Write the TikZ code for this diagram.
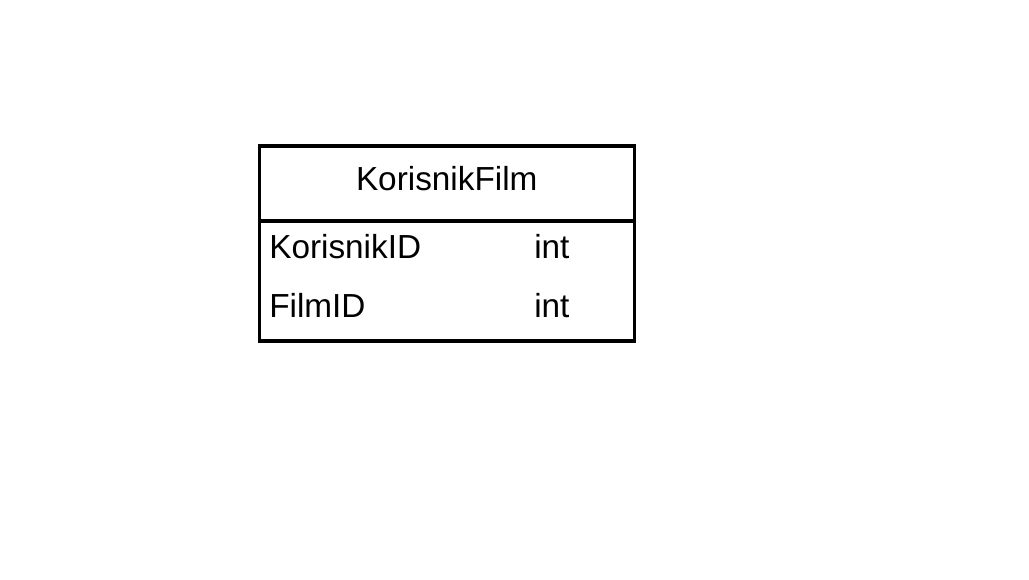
\documentclass[tikz,border=0pt]{standalone}
\usepackage{fontspec}
\setmainfont{Liberation Sans}
\usetikzlibrary{positioning}

\tikzset{
    entity/.style={draw, line width=2.4pt, minimum width=281.25pt, minimum height=146.25pt, inner sep=0pt},
    field/.style={anchor=base west, inner sep=0pt, font=\fontsize{25}{29}\selectfont},
    title/.style={anchor=base, inner sep=0pt, font=\fontsize{25}{29}\selectfont}
}

\begin{document}
\begin{tikzpicture}[x=0.75pt, y=-0.75pt]
        \useasboundingbox (0,0) rectangle (1029,579);
        \node [entity] (tbl) at (446.75,243.5) {};
        \coordinate (hl) at (259.5,221);
        \coordinate (hr) at (634,221);
        \node [title] (name) at (446.75,190) {KorisnikFilm};
        \node [field] (k1) at (269,258) {KorisnikID};
        \node [field] (t1) at (534,258) {int};
        \node [field] (k2) at (269,317) {FilmID};
        \node [field] (t2) at (534,317) {int};

    \draw [line width=2.4pt]
        (hl) -- (hr)
        ;
    \end{tikzpicture}
\end{document}
